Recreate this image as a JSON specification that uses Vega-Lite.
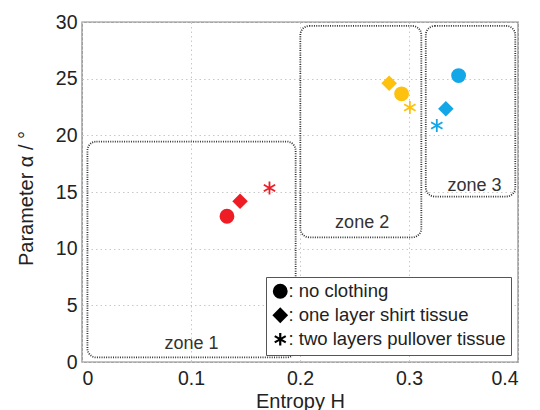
{
  "$schema": "https://vega.github.io/schema/vega-lite/v6.json",
  "width": 436,
  "height": 340,
  "autosize": "none",
  "padding": {"left": 82, "top": 22, "right": 22, "bottom": 48},
  "background": "white",
  "config": {
    "view": {"stroke": "#888", "strokeWidth": 1.4},
    "font": "Liberation Sans",
    "axis": {
      "labelFont": "Liberation Sans",
      "titleFont": "Liberation Sans",
      "labelFontSize": 19.5,
      "titleFontSize": 20,
      "titleFontWeight": "normal",
      "labelColor": "#222",
      "titleColor": "#222",
      "domain": false,
      "ticks": false,
      "gridColor": "#c8c8c8",
      "gridDash": [1.5, 3],
      "gridWidth": 1
    }
  },
  "datasets": {
    "zones": [
      {"zone": "zone 1", "x1": 0.005, "x2": 0.196, "y1": 0.4, "y2": 19.45},
      {"zone": "zone 2", "x1": 0.2003, "x2": 0.3113, "y1": 11.0, "y2": 29.65},
      {"zone": "zone 3", "x1": 0.3154, "x2": 0.3975, "y1": 14.6, "y2": 29.65}
    ],
    "labels": [
      {"text": "zone 1", "H": 0.1005, "a": 1.6},
      {"text": "zone 2", "H": 0.257, "a": 12.3},
      {"text": "zone 3", "H": 0.36, "a": 15.5}
    ],
    "points": [
      {"zone": "zone 1", "clothing": "no clothing", "H": 0.133, "a": 12.86},
      {"zone": "zone 1", "clothing": "one layer shirt tissue", "H": 0.145, "a": 14.18},
      {"zone": "zone 1", "clothing": "two layers pullover tissue", "H": 0.172, "a": 15.35},
      {"zone": "zone 2", "clothing": "one layer shirt tissue", "H": 0.2818, "a": 24.6},
      {"zone": "zone 2", "clothing": "no clothing", "H": 0.2932, "a": 23.66},
      {"zone": "zone 2", "clothing": "two layers pullover tissue", "H": 0.3008, "a": 22.45},
      {"zone": "zone 3", "clothing": "no clothing", "H": 0.3455, "a": 25.27},
      {"zone": "zone 3", "clothing": "one layer shirt tissue", "H": 0.3338, "a": 22.34},
      {"zone": "zone 3", "clothing": "two layers pullover tissue", "H": 0.3255, "a": 20.87}
    ]
  },
  "layer": [
    {
      "data": {"name": "zones"},
      "mark": {"type": "rect", "fill": null, "fillOpacity": 0, "stroke": "#333", "strokeWidth": 1.8, "strokeDash": [1, 1.3], "cornerRadius": 9},
      "encoding": {
        "x": {"field": "x1", "type": "quantitative", "scale": {"domain": [0, 0.4], "nice": false, "zero": false},
          "axis": {"values": [0, 0.1, 0.2, 0.3, 0.4], "format": "~g", "labelPadding": 7, "title": "Entropy H", "titleBaseline": "alphabetic", "titleY": 45, "grid": true}},
        "x2": {"field": "x2"},
        "y": {"field": "y1", "type": "quantitative", "scale": {"domain": [0, 30], "nice": false},
          "axis": {"values": [0, 5, 10, 15, 20, 25, 30], "labelPadding": 5, "title": "Parameter α / °", "titleBaseline": "alphabetic", "titleX": -50, "titleY": 176, "grid": true}},
        "y2": {"field": "y2"}
      }
    },
    {
      "data": {"name": "labels"},
      "mark": {"type": "text", "fontSize": 18, "color": "#333", "font": "Liberation Sans", "baseline": "middle", "align": "center"},
      "encoding": {
        "x": {"field": "H", "type": "quantitative"},
        "y": {"field": "a", "type": "quantitative"},
        "text": {"field": "text"}
      }
    },
    {
      "data": {"name": "points"},
      "mark": {"type": "point", "filled": true, "size": 170, "strokeWidth": 1.8, "opacity": 1},
      "encoding": {
        "x": {"field": "H", "type": "quantitative"},
        "y": {"field": "a", "type": "quantitative"},
        "color": {"field": "zone", "type": "nominal", "scale": {"domain": ["zone 1", "zone 2", "zone 3"], "range": ["#ee1d25", "#fdc10e", "#14a7e8"]}, "legend": null},
        "stroke": {"field": "zone", "type": "nominal", "scale": {"domain": ["zone 1", "zone 2", "zone 3"], "range": ["#ee1d25", "#fdc10e", "#14a7e8"]}, "legend": null},
        "shape": {"field": "clothing", "type": "nominal",
          "scale": {"domain": ["no clothing", "one layer shirt tissue", "two layers pullover tissue"], "range": ["circle", "diamond", "M0,-1L0,1M-0.87,-0.5L0.87,0.5M-0.87,0.5L0.87,-0.5"]},
          "legend": {
            "title": null,
            "orient": "bottom-right",
            "offset": 7,
            "padding": 5,
            "rowPadding": 2,
            "fillColor": "white",
            "strokeColor": "#555",
            "labelFont": "Liberation Sans",
            "labelFontSize": 18.5,
            "labelColor": "#222",
            "labelOffset": -1,
            "labelLimit": 400,
            "symbolSize": 160,
            "symbolStrokeWidth": 2.2,
            "symbolStrokeColor": "black",
            "symbolFillColor": "black",
            "labelExpr": "': ' + datum.label",
            "encode": {"symbols": {"update": {"fill": {"value": "black"}, "stroke": {"value": "black"}, "strokeWidth": {"value": 2.2}, "opacity": {"value": 1}}}}
          }
        }
      }
    }
  ]
}
